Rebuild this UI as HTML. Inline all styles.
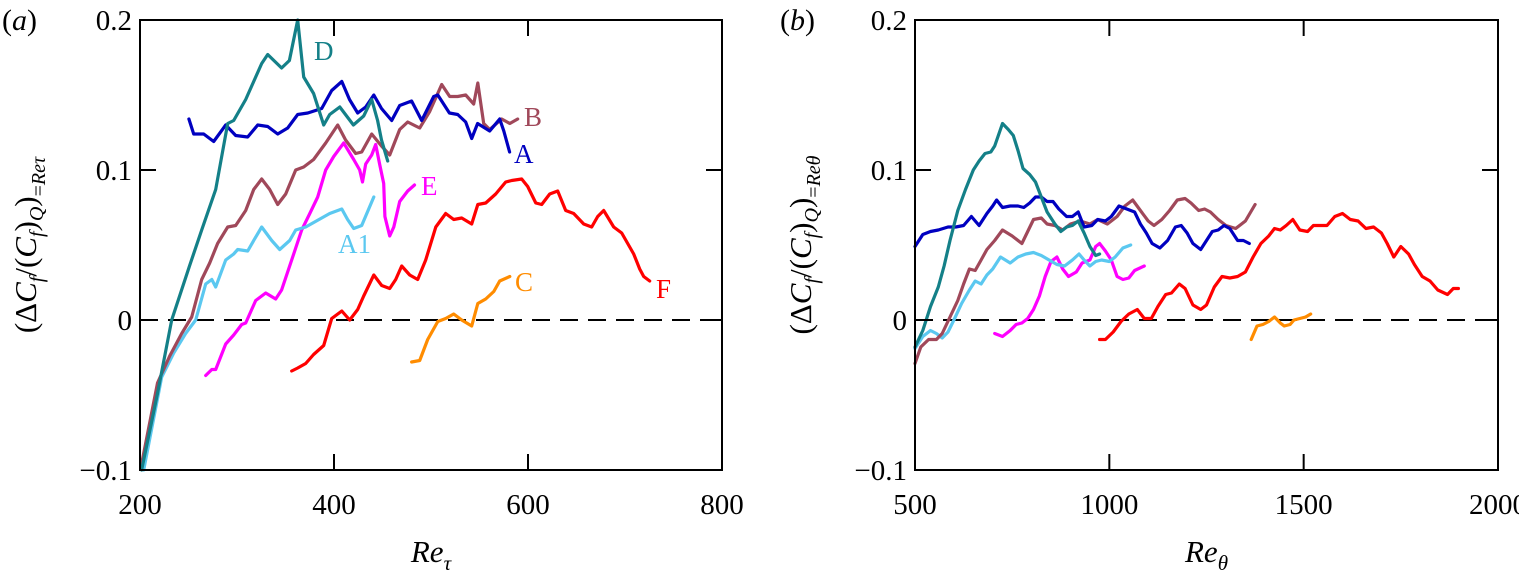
<!DOCTYPE html>
<html><head><meta charset="utf-8"><style>
html,body{margin:0;padding:0;background:#fff;}
svg{display:block;}
svg text{font-family:"Liberation Serif","DejaVu Serif",serif;}
</style></head><body>
<svg id="chart" width="1519" height="584" viewBox="0 0 1519 584" font-family="Liberation Serif, DejaVu Serif, serif" xmlns="http://www.w3.org/2000/svg"></svg>
<script>
// ---------- Panel (a) data (Re_tau vs ΔCf) ----------
const aDx=[201.7,218,232.7,251,263.6,278,290.4,296.6,309,325.5,331.7,346,354,362.6,368.8,379,389.4,395.6,406,420,430.6,438.9,445,449,455.4];
const aDy=[-0.1,-0.049,0,0.036,0.06,0.087,0.131,0.133,0.147,0.171,0.177,0.168,0.173,0.2,0.162,0.151,0.13,0.137,0.142,0.13,0.136,0.147,0.133,0.12,0.106];
const aAx=[250.4,255.4,265.7,276,288.3,298.7,311,321.3,331.7,342,352.3,362.6,373,387.3,397.6,408,416,424.4,432.7,441,449,459.5,467.7,480,490.4,502.8,507,519,527.5,535.8,542,548,560.5,570.8,575,581];
const aAy=[0.134,0.124,0.124,0.119,0.13,0.123,0.122,0.13,0.129,0.124,0.128,0.137,0.138,0.141,0.153,0.159,0.147,0.138,0.142,0.15,0.141,0.133,0.143,0.146,0.133,0.149,0.15,0.138,0.137,0.132,0.121,0.131,0.126,0.134,0.126,0.112];
const aBx=[201.7,218,230.6,243,253.3,263.6,271.9,280,290.4,298.7,309,317.2,325.5,333.7,342,350.2,360.5,368.8,379,391.4,403.8,412,422.4,428.6,438.9,449,457.4,467.7,476,488.4,498.7,511,519.3,527.5,535.8,544,548.2,554.3,560.5,572.9,581.2,589.4];
const aBy=[-0.096,-0.042,-0.024,-0.009,0.002,0.027,0.038,0.051,0.062,0.063,0.073,0.087,0.094,0.087,0.077,0.084,0.1,0.102,0.107,0.118,0.13,0.12,0.111,0.112,0.124,0.116,0.11,0.127,0.132,0.128,0.139,0.157,0.149,0.149,0.15,0.144,0.158,0.131,0.127,0.134,0.131,0.134];
const aA1x=[203.8,222.4,234.7,247,257.4,267.7,274,278,288.3,296.6,300.7,311,317.2,325.5,335.8,344,354.3,360.5,370.8,387.3,395.6,408,414,420.3,428.6,441];
const aA1y=[-0.1,-0.038,-0.022,-0.009,0,0.024,0.027,0.022,0.04,0.044,0.047,0.046,0.053,0.062,0.053,0.047,0.053,0.06,0.062,0.068,0.071,0.074,0.067,0.061,0.063,0.082];
const aEx=[267.7,274,278,288.3,296.6,304.8,309,319.3,329.6,339.9,346,358.5,366.7,375,383.2,391.4,399.7,410,420.3,426.5,429.4,432.7,438.9,443,447,451.2,452.5,457.4,461.6,467.7,476,483];
const aEy=[-0.037,-0.033,-0.033,-0.016,-0.01,-0.003,-0.002,0.013,0.018,0.014,0.02,0.044,0.06,0.071,0.082,0.1,0.109,0.118,0.107,0.1,0.092,0.104,0.11,0.117,0.104,0.091,0.069,0.056,0.062,0.079,0.086,0.09];
const aFx=[356.4,362.6,370.8,379,389.4,397.6,408,416.2,424.4,430.6,441,449.2,457.4,463.6,469.8,478,486.3,494.5,504.9,515.2,523.4,531.7,542,548.2,556.4,566.7,577,583.2,593.5,599.7,608,614.1,622.4,630.6,638.9,647.1,657.4,665.7,671.9,678,688.4,696.6,702.8,709,715.2,719.3,725.5];
const aFy=[-0.034,-0.032,-0.029,-0.023,-0.017,0.001,0.006,0,0.007,0.016,0.03,0.023,0.021,0.027,0.036,0.03,0.027,0.04,0.062,0.071,0.067,0.068,0.064,0.077,0.078,0.084,0.092,0.093,0.094,0.089,0.078,0.077,0.084,0.086,0.073,0.071,0.064,0.062,0.069,0.073,0.062,0.058,0.051,0.044,0.034,0.029,0.026];
const aCx=[480,488.4,496.6,507,515.2,523.4,531.7,542,548.2,556.4,564.7,570.8,581.2];
const aCy=[-0.028,-0.027,-0.013,-0.001,0.001,0.004,0,-0.004,0.011,0.014,0.019,0.026,0.029];

// ---------- Panel (b) data (Re_theta vs ΔCf) ----------
const bDx=[500,520,540,560,575,590,610,630,650,665,680,695,705,725,740,753,765,778,795,810,825,840,860,875,890,905,920,935,950,965,975];
const bDy=[-0.018,-0.007,0.009,0.022,0.036,0.053,0.073,0.087,0.1,0.106,0.111,0.112,0.116,0.131,0.127,0.123,0.113,0.101,0.097,0.092,0.082,0.072,0.064,0.059,0.062,0.063,0.066,0.058,0.049,0.043,0.044];
const bAx=[500,520,540,560,585,605,625,645,665,685,700,710,725,745,765,780,795,810,825,840,855,870,890,905,920,935,955,970,990,1005,1025,1045,1065,1080,1095,1110,1130,1150,1170,1185,1200,1215,1235,1250,1265,1280,1295,1310,1330,1345,1360];
const bAy=[0.049,0.057,0.059,0.06,0.062,0.062,0.063,0.069,0.063,0.071,0.076,0.08,0.075,0.076,0.076,0.075,0.078,0.082,0.082,0.079,0.079,0.074,0.069,0.069,0.072,0.062,0.063,0.067,0.066,0.069,0.076,0.074,0.072,0.064,0.058,0.051,0.048,0.053,0.062,0.063,0.058,0.051,0.047,0.053,0.059,0.06,0.063,0.061,0.053,0.053,0.051];
const bBx=[500,515,535,555,570,590,610,625,640,655,670,685,705,725,750,775,790,805,825,840,860,880,900,925,950,970,995,1020,1040,1060,1080,1100,1115,1135,1155,1175,1195,1210,1230,1245,1260,1280,1300,1325,1350,1375];
const bBy=[-0.029,-0.018,-0.013,-0.013,-0.009,0.002,0.013,0.024,0.034,0.033,0.04,0.047,0.053,0.06,0.056,0.051,0.059,0.067,0.068,0.064,0.063,0.06,0.064,0.066,0.064,0.067,0.064,0.069,0.076,0.08,0.073,0.066,0.063,0.067,0.073,0.08,0.081,0.078,0.073,0.074,0.072,0.067,0.063,0.061,0.066,0.077];
const bA1x=[500,520,540,555,570,585,600,620,640,655,670,685,700,720,745,765,785,805,825,845,865,885,905,922,935,950,965,980,1000,1015,1035,1055];
const bA1y=[-0.019,-0.011,-0.007,-0.009,-0.012,-0.008,0,0.011,0.02,0.026,0.024,0.03,0.034,0.042,0.038,0.042,0.044,0.045,0.043,0.04,0.037,0.036,0.04,0.044,0.04,0.036,0.039,0.04,0.039,0.042,0.048,0.05];
const bEx=[705,725,745,760,775,790,805,820,835,850,865,880,895,915,930,950,965,975,990,1005,1020,1035,1050,1065,1090];
const bEy=[-0.009,-0.011,-0.007,-0.003,-0.002,0.001,0.007,0.016,0.029,0.039,0.042,0.034,0.029,0.032,0.038,0.04,0.049,0.051,0.046,0.04,0.029,0.027,0.028,0.033,0.036];
const bFx=[975,990,1010,1030,1050,1072,1090,1108,1125,1145,1160,1180,1195,1215,1235,1250,1270,1290,1310,1330,1350,1370,1390,1410,1425,1440,1455,1472,1490,1510,1525,1540,1560,1580,1600,1620,1640,1660,1680,1700,1715,1732,1750,1770,1785,1805,1825,1845,1870,1885,1898];
const bFy=[-0.013,-0.013,-0.008,-0.001,0.004,0.007,0.001,0.001,0.009,0.017,0.018,0.024,0.021,0.01,0.007,0.01,0.022,0.029,0.028,0.029,0.032,0.042,0.051,0.056,0.061,0.06,0.063,0.067,0.06,0.059,0.063,0.063,0.063,0.069,0.071,0.067,0.066,0.061,0.062,0.058,0.051,0.042,0.049,0.044,0.037,0.029,0.026,0.02,0.017,0.021,0.021];
const bCx=[1365,1380,1395,1410,1425,1440,1450,1465,1475,1490,1505,1518];
const bCy=[-0.013,-0.004,-0.003,-0.001,0.002,-0.002,-0.004,-0.003,0,0.001,0.002,0.004];

const aXTicks=[200,400,600,800];
const bXTicks=[500,1000,1500,2000];
const yTicks=[-0.1,0,0.1,0.2];
const yTickLabels=["\u22120.1","0","0.1","0.2"];

const C={A:"#0000c0",B:"#a0485a",D:"#148088",A1:"#5bc8f0",E:"#ff00ff",F:"#ff0000",C:"#ff8c00"};
const NS="http://www.w3.org/2000/svg";
const FONT='Liberation Serif, DejaVu Serif, serif';
const svg=document.getElementById('chart');
function mk(tag,attrs,parent){const e=document.createElementNS(NS,tag);for(const k in attrs)e.setAttribute(k,attrs[k]);if(tag==='text')e.setAttribute('font-family',FONT);(parent||svg).appendChild(e);return e;}

function panel(p){
  const g=mk('g',{});
  
  
  const X=v=>p.x0+(v-p.xmin)/(p.xmax-p.xmin)*(p.x1-p.x0);
  const Y=v=>p.y1-(v-(-0.1))/0.3*(p.y1-p.y0);
  const z=mk('line',{x1:p.x0,x2:p.x1,y1:Y(0),y2:Y(0),stroke:'#000','stroke-width':2,'stroke-dasharray':'18,10'},g);
  
  
  p.series.forEach(s=>{
    const pts=s.x.map((v,i)=>X(v).toFixed(1)+','+Y(s.y[i]).toFixed(1)).join(' ');
    const pl=mk('polyline',{points:pts,fill:'none',stroke:s.c,'stroke-width':3.2,'stroke-linejoin':'round','stroke-linecap':'round'},g);
    
    
  });
  const fr=mk('rect',{x:p.x0,y:p.y0,width:p.x1-p.x0,height:p.y1-p.y0,fill:'none',stroke:'#000','stroke-width':2},g);
  
  
  p.xt.forEach(v=>{
    const x=X(v);
    mk('line',{x1:x,x2:x,y1:p.y1,y2:p.y1-16,stroke:'#000','stroke-width':2},g);
    mk('line',{x1:x,x2:x,y1:p.y0,y2:p.y0+16,stroke:'#000','stroke-width':2},g);
    const t=mk('text',{x:x,y:p.y1+44,'font-size':29,'text-anchor':'middle'},g);
    t.textContent=v;
    
    
  });
  yTicks.forEach((v,i)=>{
    const y=Y(v);
    mk('line',{x1:p.x0,x2:p.x0+16,y1:y,y2:y,stroke:'#000','stroke-width':2},g);
    mk('line',{x1:p.x1,x2:p.x1-16,y1:y,y2:y,stroke:'#000','stroke-width':2},g);
    const t=mk('text',{x:p.x0-8,y:y+10,'font-size':29,'text-anchor':'end'},g);
    t.textContent=yTickLabels[i];
    
    
  });
  const xt=mk('text',{x:(p.x0+p.x1)/2,y:562,'font-size':31,'text-anchor':'middle','font-style':'italic'},g);
  xt.innerHTML='Re<tspan font-size="21" dy="8">'+p.sub+'</tspan>';
  
  
  const yt=mk('text',{transform:'translate('+(p.x0-104)+',245) rotate(-90)','font-size':31,'text-anchor':'middle'},g);
  yt.innerHTML='(Δ<tspan font-style="italic">C</tspan><tspan font-style="italic" font-size="20" dy="7">f</tspan><tspan dy="-7">/(</tspan><tspan font-style="italic">C</tspan><tspan font-style="italic" font-size="20" dy="7">f</tspan><tspan dy="-7">)</tspan><tspan font-style="italic" font-size="20" dy="7">Q</tspan><tspan dy="-7">)</tspan><tspan font-size="20" dy="9">=</tspan><tspan font-style="italic" font-size="20">Re'+p.sub+'</tspan>';
  
  
  const pl=mk('text',{x:p.lx,y:30,'font-size':30},g);
  pl.innerHTML='(<tspan font-style="italic">'+p.letter+'</tspan>)';
  
  
  (p.labels||[]).forEach(l=>{
    const t=mk('text',{x:l[1],y:l[2],'font-size':27,fill:C[l[0]]},g);
    t.textContent=l[0];
    
    
  });
}

panel({name:'panel-a',letter:'a',lx:2,x0:140,x1:722,y0:20,y1:470,xmin:200,xmax:800,xt:aXTicks,sub:'τ',
  series:[{n:'F',x:aFx,y:aFy,c:C.F},{n:'C',x:aCx,y:aCy,c:C.C},{n:'E',x:aEx,y:aEy,c:C.E},{n:'A1',x:aA1x,y:aA1y,c:C.A1},{n:'B',x:aBx,y:aBy,c:C.B},{n:'A',x:aAx,y:aAy,c:C.A},{n:'D',x:aDx,y:aDy,c:C.D}],
  labels:[['D',314,60],['B',524,126],['A',514,163],['E',421,195],['A1',338,253],['F',656,298],['C',515,291]]});
panel({name:'panel-b',letter:'b',lx:780,x0:915,x1:1498,y0:20,y1:470,xmin:500,xmax:2000,xt:bXTicks,sub:'θ',
  series:[{n:'F',x:bFx,y:bFy,c:C.F},{n:'C',x:bCx,y:bCy,c:C.C},{n:'E',x:bEx,y:bEy,c:C.E},{n:'A1',x:bA1x,y:bA1y,c:C.A1},{n:'B',x:bBx,y:bBy,c:C.B},{n:'A',x:bAx,y:bAy,c:C.A},{n:'D',x:bDx,y:bDy,c:C.D}]});
</script>
</body></html>
